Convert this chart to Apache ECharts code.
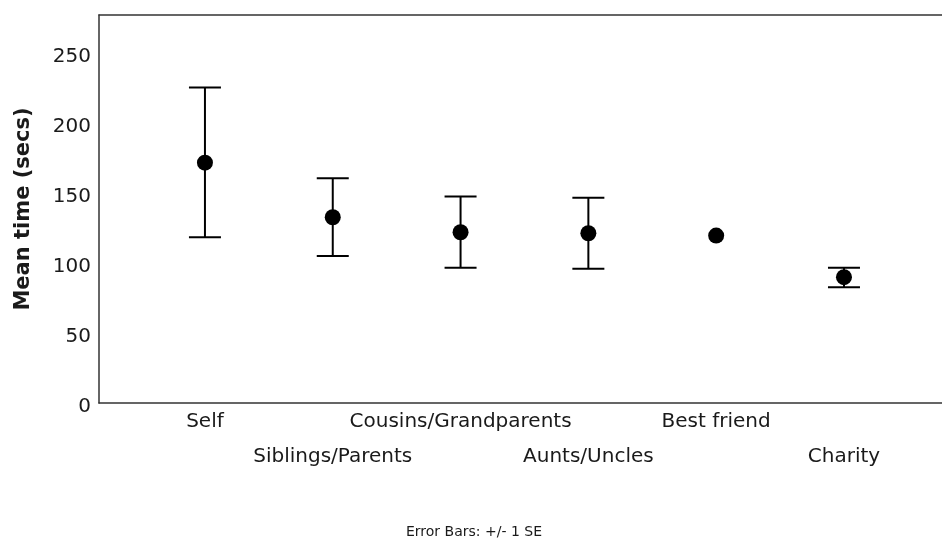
<!DOCTYPE html>
<html>
<head>
<meta charset="utf-8">
<script src="https://cdn.jsdelivr.net/npm/echarts@6/dist/echarts.min.js"></script>
<style>
  html, body { margin: 0; padding: 0; background: #fff; }
  #chart { width: 942px; height: 541px; }
</style>
</head>
<body>
<div id="chart"></div>
<script>
// Groups along the x axis (plotted at positions 1..6)
const categories = ['Self', 'Siblings/Parents', 'Cousins/Grandparents', 'Aunts/Uncles', 'Best friend', 'Charity'];
// Mean time in seconds for each group
const means = [171.6, 132.6, 121.9, 121.2, 119.5, 89.8];
// Mean +/- 1 SE (null where the interval is too small to draw)
const upper = [225.2, 160.5, 147.4, 146.6, null, 96.6];
const lower = [118.4, 105.0, 96.6, 95.9, null, 82.6];
// Y axis tick labels
const yTicks = [0, 50, 100, 150, 200, 250];

const FONT = 'DejaVu Sans';
const INK = '#1a1a1a';

const positions = categories.map((_, i) => i + 1);
const pointData = means.map((m, i) => [positions[i], m]);
const barData = [];
upper.forEach((u, i) => {
  if (u != null && lower[i] != null) barData.push([positions[i], lower[i], u]);
});

const chart = echarts.init(document.getElementById('chart'), null, { renderer: 'canvas' });

chart.setOption({
  animation: false,
  backgroundColor: '#fff',
  grid: { left: 99, right: 0, top: 15, bottom: 138, containLabel: false },
  xAxis: [{
    type: 'value',
    min: 0.171,
    max: 6.767,
    position: 'bottom',
    axisLine: { show: true, onZero: false, lineStyle: { color: '#333', width: 1.5 } },
    axisTick: { show: false },
    splitLine: { show: false },
    axisLabel: {
      customValues: positions,
      margin: 1,
      fontFamily: FONT,
      fontSize: 20,
      color: INK,
      lineHeight: 35,
      formatter: v => {
        const idx = Math.round(v) - 1;
        const name = categories[idx] || '';
        return idx % 2 === 1 ? '\n' + name : name;
      }
    }
  }, {
    // top border of the plot frame
    type: 'value',
    min: 0.171,
    max: 6.767,
    position: 'top',
    axisLine: { show: true, onZero: false, lineStyle: { color: '#333', width: 1.5 } },
    axisTick: { show: false },
    axisLabel: { show: false },
    splitLine: { show: false }
  }],
  yAxis: {
    type: 'value',
    min: 0,
    max: 277,
    interval: 50,
    name: 'Mean time (secs)',
    nameLocation: 'middle',
    nameGap: 65,
    nameTextStyle: { fontFamily: FONT, fontSize: 21, fontWeight: 'bold', color: INK },
    axisLine: { show: true, onZero: false, lineStyle: { color: '#333', width: 1.5 } },
    axisTick: { show: false },
    splitLine: { show: false },
    axisLabel: {
      customValues: yTicks,
      margin: 8,
      fontFamily: FONT,
      fontSize: 20,
      color: INK,
      verticalAlign: 'top',
      lineHeight: 8
    }
  },
  series: [{
    type: 'custom',
    name: 'SE',
    xAxisIndex: 0,
    data: barData,
    z: 2,
    renderItem: (params, api) => {
      const x = api.value(0);
      const lo = api.coord([x, api.value(1)]);
      const hi = api.coord([x, api.value(2)]);
      const half = 16;
      const style = { stroke: '#000', lineWidth: 2 };
      return {
        type: 'group',
        children: [
          { type: 'line', shape: { x1: lo[0], y1: lo[1], x2: hi[0], y2: hi[1] }, style },
          { type: 'line', shape: { x1: hi[0] - half, y1: hi[1], x2: hi[0] + half, y2: hi[1] }, style },
          { type: 'line', shape: { x1: lo[0] - half, y1: lo[1], x2: lo[0] + half, y2: lo[1] }, style }
        ]
      };
    }
  }, {
    type: 'scatter',
    name: 'Mean',
    xAxisIndex: 0,
    data: pointData,
    symbol: 'circle',
    symbolSize: 16,
    itemStyle: { color: '#000', opacity: 1 },
    z: 3
  }],
  graphic: [{
    type: 'text',
    left: 406,
    top: 525,
    style: {
      text: 'Error Bars: +/- 1 SE',
      fontFamily: FONT,
      fontSize: 14,
      fill: INK
    }
  }]
});
</script>
</body>
</html>
